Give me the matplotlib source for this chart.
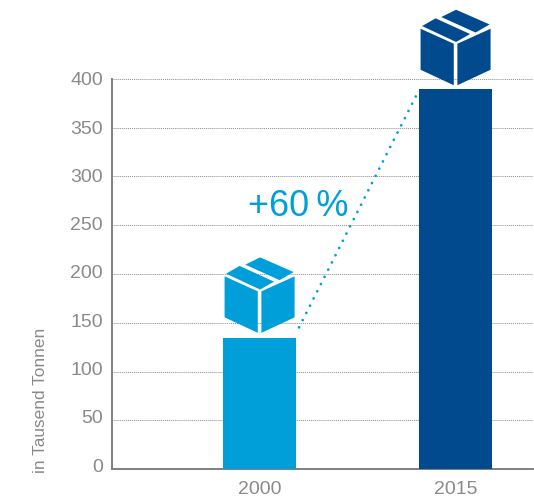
import matplotlib
matplotlib.use("Agg")
import matplotlib.pyplot as plt
from matplotlib.patches import Polygon
from matplotlib.transforms import Affine2D, ScaledTranslation

years = ["2000", "2015"]
tonnes = [134, 390]
bar_colors = ["#009FD9", "#004A8D"]
y_ticks = [0, 50, 100, 150, 200, 250, 300, 350, 400]
growth_label = "+60\u2009%"
y_label = "in Tausend Tonnen"

GRAY = "#7F7F7F"
TEXT_GRAY = "#8A8A8A"
BAR_WIDTH = 0.372

# box icon, pixels relative to the centre of the bar top (y up)
BOX_FACES = [
    [(0.5, 81), (34, 66.3), (20, 58.2), (-14.3, 73.7)],
    [(-20, 72.4), (14.5, 56.7), (0.5, 48.8), (-33.5, 64.7)],
    [(-35, 62), (-1.8, 47), (-1.8, 5.5), (-35, 21)],
    [(1.8, 47), (35, 62), (35, 21), (1.8, 5.5)],
]

plt.rcParams["font.family"] = ["Liberation Sans", "DejaVu Sans"]

fig = plt.figure(figsize=(5.34, 4.97), dpi=100)
W, H = 534, 497
ax = fig.add_axes([112 / W, (H - 469) / H, (533 - 112) / W, 390 / H])

x = range(len(years))
ax.bar(x, tonnes, width=BAR_WIDTH, color=bar_colors, zorder=3)

ax.set_xlim(-0.753, 1.395)
ax.set_ylim(0, 400)
ax.set_xticks(list(x), years)
ax.set_yticks(y_ticks)
ax.tick_params(axis="both", length=0, labelsize=14, labelcolor=TEXT_GRAY)
ax.tick_params(axis="y", pad=6.5)
ax.tick_params(axis="x", pad=9)

# Lower labels sit a little above their gridlines
for tick, label in zip(y_ticks, ax.get_yticklabels()):
    shift = 4 * (1 - tick / max(y_ticks)) / 100
    label.set_transform(label.get_transform() + ScaledTranslation(0, shift, fig.dpi_scale_trans))

ax.yaxis.grid(True, color="#8A8A8A", linewidth=0.7, linestyle=(0, (1, 1)), zorder=1)
ax.set_axisbelow(True)
for side in ["top", "right"]:
    ax.spines[side].set_visible(False)
for side in ["left", "bottom"]:
    ax.spines[side].set_color(GRAY)
    ax.spines[side].set_linewidth(1.4)

fig.text(41 / W, (H - 473) / H, y_label, rotation=90, ha="center", va="bottom",
         fontsize=12.4, color=TEXT_GRAY)


def to_pixels(x_val, y_val, dx=0, dy=0):
    """ Data position plus an offset in pixels, as display coordinates. """
    px, py = ax.transData.transform((x_val, y_val))
    return px + dx, py + dy


# Dotted connector between the two bars
start = to_pixels(0 + BAR_WIDTH / 2, tonnes[0], 3, 11)
end = to_pixels(1 - BAR_WIDTH / 2, tonnes[1], -3, -7)
ax.plot([start[0], end[0]], [start[1], end[1]], transform=None, color=bar_colors[0],
        linewidth=2.0, linestyle=(0, (0.01, 2.9)), dash_capstyle="round", zorder=4,
        clip_on=False)

ax.text(298 / W, (H - 216) / H, growth_label, transform=fig.transFigure, ha="center",
        va="baseline", fontsize=26, color=bar_colors[0], zorder=5)

# Box icon standing above each bar
for i, value in enumerate(tonnes):
    origin = to_pixels(i, value, 0, -2 * i)
    tr = Affine2D().translate(*origin)
    for face in BOX_FACES:
        ax.add_patch(Polygon(face, closed=True, transform=tr, facecolor=bar_colors[i],
                             edgecolor="none", zorder=5, clip_on=False))

fig.savefig("out.png", dpi=100)
